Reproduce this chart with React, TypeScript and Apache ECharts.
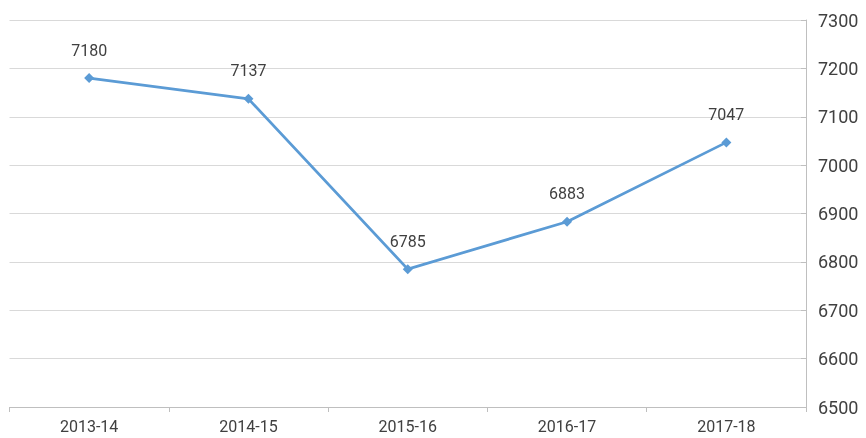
import React, { useEffect, useRef } from "react";
import * as echarts from "echarts";

const categories = ["2013-14", "2014-15", "2015-16", "2016-17", "2017-18"];
const values = [7180, 7137, 6785, 6883, 7047];

export default function App() {
  const ref = useRef<HTMLDivElement>(null);
  useEffect(() => {
    const chart = echarts.init(ref.current!, undefined, { renderer: "svg" });
    chart.setOption({
      animation: false,
      grid: { left: 9.5, right: 60, top: 20, bottom: 31, containLabel: false },
      xAxis: {
        type: "category",
        data: categories,
        boundaryGap: true,
        axisLine: { lineStyle: { color: "#bfbfbf", width: 1 } },
        axisTick: { show: true, length: 5, lineStyle: { color: "#bfbfbf" } },
        axisLabel: { color: "#404040", fontSize: 16, fontFamily: "Roboto", margin: 10, lineHeight: 18 },
      },
      yAxis: {
        type: "value",
        position: "right",
        min: 6500,
        max: 7300,
        interval: 100,
        axisLine: { show: true, lineStyle: { color: "#bfbfbf", width: 1 } },
        axisTick: { show: true, inside: true, length: 5, lineStyle: { color: "#bfbfbf" } },
        axisLabel: {
          color: "#404040",
          fontSize: 18,
          fontFamily: "Roboto",
          margin: 12,
          formatter: (v: number) => String(v),
        },
        splitLine: { lineStyle: { color: "#d9d9d9", width: 1 } },
      },
      series: [
        {
          type: "line",
          data: values,
          symbol: "diamond",
          symbolSize: 10,
          lineStyle: { color: "#5b9bd5", width: 2.75 },
          itemStyle: { color: "#5b9bd5" },
          label: {
            show: true,
            position: "top",
            distance: 15,
            color: "#404040",
            fontSize: 16,
            fontFamily: "Roboto",
          },
        },
      ],
    });
    return () => chart.dispose();
  }, []);
  return (
    <div
      ref={ref}
      style={{ position: "fixed", left: 0, top: 0, width: 866, height: 438 }}
    />
  );
}
